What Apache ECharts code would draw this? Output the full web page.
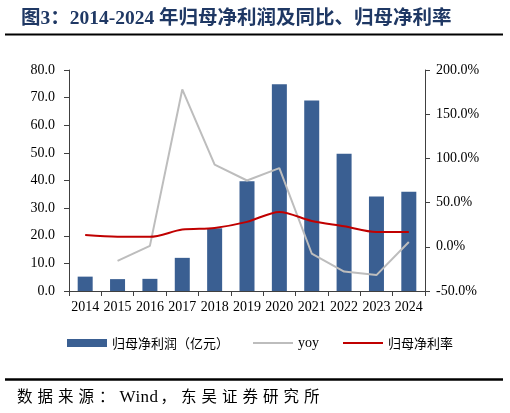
<!DOCTYPE html>
<html>
<head>
<meta charset="utf-8">
<script src="https://cdn.jsdelivr.net/npm/echarts@6/dist/echarts.min.js"></script>
<style>
html,body{margin:0;padding:0;background:#fff;}
#wrap{position:relative;width:510px;height:413px;}
#chart{position:absolute;left:0;top:0;width:510px;height:413px;}
#src{position:absolute;left:17px;top:388px;font-size:15.5px;line-height:17px;color:#000;font-family:"Liberation Serif","Noto Sans CJK SC",serif;white-space:nowrap;}
#src .c{letter-spacing:5px;}
#src .w{font-size:17px;letter-spacing:0.5px;margin-right:2px;}
</style>
</head>
<body>
<div id="wrap">
<div id="chart"></div>
<div id="src"><span class="c">数据来源：</span><span class="w">Wind</span><span class="c">，东吴证券研究所</span></div>
</div>
<script>
var years = ['2014','2015','2016','2017','2018','2019','2020','2021','2022','2023','2024'];
var profit = [5.2, 4.3, 4.4, 12.0, 22.7, 39.7, 74.8, 69.0, 49.7, 34.2, 35.9];
var yoy = [null, -16.0, 1.0, 178.0, 93.0, 75.0, 89.0, -7.6, -28.0, -32.0, 5.5];
var margin = [13.4, 11.5, 11.3, 19.5, 21.4, 28.2, 39.5, 29.3, 23.3, 16.8, 16.8];

var chart = echarts.init(document.getElementById('chart'));
var serif = '"Liberation Serif", "Times New Roman", serif';
var cjk = '"Noto Sans CJK SC", sans-serif';
var axisColor = '#404040';
var noDot = {color: 'rgba(0,0,0,0)', borderWidth: 0, borderColor: 'rgba(0,0,0,0)'};
chart.setOption({
  animation: false,
  backgroundColor: '#fff',
  title: {
    text: '图3：2014-2024 年归母净利润及同比、归母净利率',
    left: 16, top: 4,
    textStyle: {fontSize: 19.5, fontWeight: 'bold', color: '#1F3864', fontFamily: '"Liberation Serif", "Noto Sans CJK SC", serif'}
  },
  graphic: [
    {type: 'line', shape: {x1: 5, y1: 34.5, x2: 503, y2: 34.5}, style: {stroke: '#000', lineWidth: 2}},
    {type: 'line', shape: {x1: 5, y1: 379.5, x2: 503, y2: 379.5}, style: {stroke: '#000', lineWidth: 2.5}}
  ],
  legend: {
    left: 62, top: 331,
    itemWidth: 40, itemHeight: 8, itemGap: 23,
    textStyle: {fontSize: 13, fontFamily: cjk, color: '#000'},
    data: [
      {name: '归母净利润（亿元）', icon: 'rect'},
      {name: 'yoy', textStyle: {fontFamily: serif, fontSize: 14}, itemStyle: noDot},
      {name: '归母净利率', itemStyle: noDot}
    ]
  },
  grid: {left: 69, right: 85, top: 70, bottom: 122},
  xAxis: {
    type: 'category', data: years, boundaryGap: true,
    axisLine: {lineStyle: {color: axisColor, width: 1}},
    axisTick: {show: true, alignWithLabel: false, length: 5, lineStyle: {color: axisColor}},
    axisLabel: {fontSize: 14, fontFamily: serif, color: '#000', margin: 9, interval: 0}
  },
  yAxis: [
    {
      type: 'value', min: 0, max: 80, interval: 10,
      axisLine: {show: true, lineStyle: {color: axisColor}},
      axisTick: {show: true, length: 5, lineStyle: {color: axisColor}},
      splitLine: {show: false},
      axisLabel: {fontSize: 14, fontFamily: serif, color: '#000', margin: 14, formatter: function(v){return v.toFixed(1);}}
    },
    {
      type: 'value', min: -50, max: 200, interval: 50, position: 'right',
      axisLine: {show: true, lineStyle: {color: axisColor}},
      axisTick: {show: true, length: 5, lineStyle: {color: axisColor}},
      splitLine: {show: false},
      axisLabel: {fontSize: 14, fontFamily: serif, color: '#000', margin: 11, formatter: function(v){return v.toFixed(1) + '%';}}
    }
  ],
  series: [
    {
      name: '归母净利润（亿元）', type: 'bar', data: profit, yAxisIndex: 0,
      barWidth: 15, itemStyle: {color: '#3A5F92'}
    },
    {
      name: 'yoy', type: 'line', data: yoy, yAxisIndex: 1,
      symbol: 'none', lineStyle: {color: '#BDBDBD', width: 2}, itemStyle: {color: '#BDBDBD'}
    },
    {
      name: '归母净利率', type: 'line', data: margin, yAxisIndex: 1,
      symbol: 'none', smooth: 0.3, lineStyle: {color: '#C00000', width: 2}, itemStyle: {color: '#C00000'}
    }
  ]
});
</script>
</body>
</html>
